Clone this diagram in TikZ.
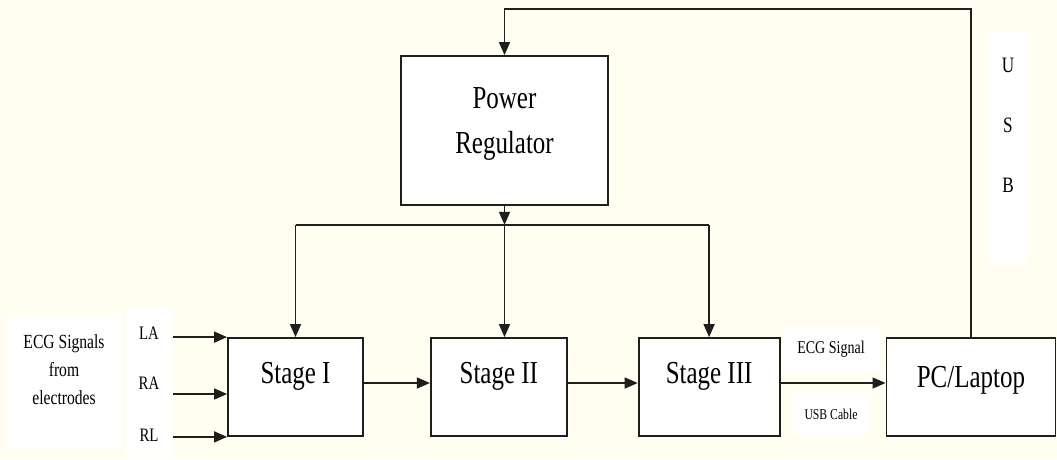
\documentclass[tikz,border=0pt]{standalone}
\usepackage{fontspec}
\setmainfont[FakeStretch=0.78]{Liberation Serif}
\usepackage{xcolor}
\usepackage{tikz}
\usetikzlibrary{arrows.meta, positioning, calc}
\definecolor{paper}{HTML}{FFFEF0}
\definecolor{edge}{HTML}{1E1E1E}

\begin{document}
\begin{tikzpicture}[
    x=1pt, y=-1pt,
    node distance=66pt,
    block/.style={draw=edge, line width=1.8pt, fill=white, align=center, minimum height=98pt, font=\fontsize{32}{45}\selectfont},
    tag/.style={fill=white, align=center, inner sep=0pt},
    arrow/.style={-{Triangle[length=13pt, width=11pt]}, line width=1.5pt, draw=edge}
]
\fill[paper] (0,0) rectangle (1057,459);
\useasboundingbox (0,0) rectangle (1057,459);

% signal chain
\node[block, minimum width=135pt, text height=24pt, text depth=31pt] (s1) at (295.5,387) {Stage I};
\node[block, minimum width=136pt, text height=24pt, text depth=31pt, right=66pt of s1] (s2) {Stage II};
\node[block, minimum width=141pt, text height=24pt, text depth=31pt, right=70pt of s2] (s3) {Stage III};
\node[block, minimum width=169pt, text height=24pt, text depth=23pt, right=105pt of s3] (pc) {PC/Laptop};
\node[block, minimum width=207pt, minimum height=149pt, text height=68pt, text depth=22pt] (power) at (504.5,130.5) {Power\\Regulator};

% labels
\node[tag, minimum width=114pt, minimum height=133pt, text height=70pt, text depth=24pt, font=\fontsize{20}{28}\selectfont] (src) at (64,381.5) {ECG Signals\\from\\electrodes};
\node[tag, minimum width=47pt, minimum height=149pt] (leads) at (149.5,382.5) {};
\node[font=\fontsize{19}{19}\selectfont, inner sep=0pt] (la) at (149,333) {LA};
\node[font=\fontsize{19}{19}\selectfont, inner sep=0pt] (ra) at (149,383) {RA};
\node[font=\fontsize{19}{19}\selectfont, inner sep=0pt] (rl) at (149,435) {RL};
\node[tag, minimum width=96pt, minimum height=45pt, font=\fontsize{18}{18}\selectfont] (sig) at (831,349.5) {ECG Signal};
\node[tag, minimum width=76pt, minimum height=43pt, font=\fontsize{15}{15}\selectfont] (cable) at (831,414.5) {USB Cable};
\node[tag, minimum width=40pt, minimum height=231pt, text height=135pt, text depth=45pt, font=\fontsize{22}{60}\selectfont] (usb) at (1008,147.5) {U\\S\\B};

\coordinate (loop) at (0,9);
\coordinate (bus) at ($(power.south)+(0,19)$);

% electrode inputs
\draw[arrow] (leads.east |- s1.north) -- (s1.north west);
\draw[arrow] ($(leads.east |- s1.west)+(0,7)$) -- ($(s1.west)+(0,7)$);
\draw[arrow] (leads.east |- s1.south) -- (s1.south west);

\draw[arrow] ($(s1.east)+(0,-4)$) -- ($(s2.west)+(0,-4)$);
\draw[arrow] ($(s2.east)+(0,-4)$) -- ($(s3.west)+(0,-4)$);
\draw[arrow] ($(s3.east)+(0,-4)$) -- ($(pc.west)+(0,-4)$);

% supply
\draw[arrow] (power.south) -- (bus);
\draw[line width=1.5pt, draw=edge] (s1.north |- bus) -- (s3.north |- bus);
\draw[arrow] (bus) -- (bus |- s2.north);
\draw[arrow] (s1.north |- bus) -- (s1.north);
\draw[arrow] (s3.north |- bus) -- (s3.north);
\draw[arrow] (pc.north) |- (power.north |- loop) -- (power.north);
\end{tikzpicture}
\end{document}
